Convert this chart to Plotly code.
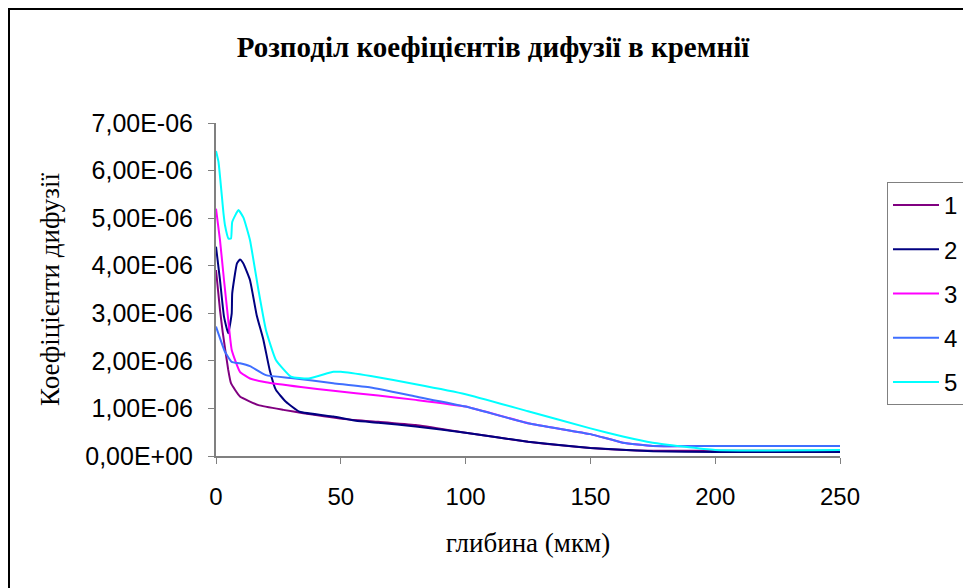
import plotly.graph_objects as go

# ---- data ----
series_names = ["1", "2", "3", "4", "5"]

x1 = [0, 1.6, 2.7, 4.9, 6, 9.6, 17, 27, 35, 53, 65, 80, 100, 125, 150, 175, 200, 250]
y1 = [3.91e-6, 3.07e-6, 2.60e-6, 1.81e-6, 1.53e-6, 1.25e-6, 1.07e-6, 0.97e-6, 0.90e-6,
      0.77e-6, 0.72e-6, 0.65e-6, 0.49e-6, 0.30e-6, 0.17e-6, 0.11e-6, 0.11e-6, 0.11e-6]

x2 = [0, 1.6, 3.2, 4.9, 6.3, 6.5, 8.4, 9.6, 10.9, 13.6, 16.3, 19, 21.5, 24, 28, 33.5,
      47, 56, 65, 80, 100, 125, 150, 175, 200, 250]
y2 = [4.40e-6, 3.70e-6, 2.93e-6, 2.58e-6, 3.00e-6, 3.42e-6, 4.05e-6, 4.13e-6, 4.05e-6,
      3.70e-6, 2.96e-6, 2.44e-6, 1.81e-6, 1.39e-6, 1.14e-6, 0.93e-6, 0.83e-6, 0.74e-6,
      0.70e-6, 0.62e-6, 0.49e-6, 0.30e-6, 0.17e-6, 0.10e-6, 0.085e-6, 0.085e-6]

x3 = [0, 1.6, 3.2, 4.9, 6.3, 9.6, 13.6, 20, 34, 47, 65, 80, 100, 125, 150, 163, 175, 200, 250]
y3 = [5.20e-6, 4.54e-6, 3.70e-6, 2.86e-6, 2.23e-6, 1.77e-6, 1.63e-6, 1.55e-6, 1.45e-6,
      1.37e-6, 1.27e-6, 1.18e-6, 1.04e-6, 0.69e-6, 0.46e-6, 0.28e-6, 0.21e-6, 0.21e-6, 0.21e-6]

x4 = [0, 3.6, 6.3, 9.6, 13.6, 20, 30, 47, 62, 80, 100, 125, 150, 163, 175, 200, 250]
y4 = [2.72e-6, 2.19e-6, 1.98e-6, 1.95e-6, 1.89e-6, 1.70e-6, 1.64e-6, 1.53e-6, 1.44e-6,
      1.25e-6, 1.04e-6, 0.69e-6, 0.46e-6, 0.28e-6, 0.21e-6, 0.21e-6, 0.21e-6]

x5 = [0, 1, 3, 3.6, 5, 6, 6.5, 9, 11, 13.6, 17, 20, 24, 30, 37, 47, 50, 62, 80, 100,
      125, 150, 163, 175, 200, 250]
y5 = [6.41e-6, 6.18e-6, 5.10e-6, 4.85e-6, 4.57e-6, 4.57e-6, 4.92e-6, 5.17e-6, 5.01e-6,
      4.54e-6, 3.49e-6, 2.65e-6, 2.02e-6, 1.67e-6, 1.63e-6, 1.77e-6, 1.77e-6, 1.68e-6,
      1.51e-6, 1.30e-6, 0.94e-6, 0.58e-6, 0.41e-6, 0.28e-6, 0.126e-6, 0.126e-6]

y_tick_vals = [0, 1e-6, 2e-6, 3e-6, 4e-6, 5e-6, 6e-6, 7e-6]
y_tick_text = ["0,00E+00", "1,00E-06", "2,00E-06", "3,00E-06",
               "4,00E-06", "5,00E-06", "6,00E-06", "7,00E-06"]
x_tick_vals = [0, 50, 100, 150, 200, 250]

title_text = "Розподіл коефіцієнтів дифузії в кремнії"
x_title = "глибина (мкм)"
y_title = "Коефіцієнти дифузії"

colors = ["#800080", "#000080", "#FF00FF", "#3F6FFF", "#00FFFF"]

xs = [x1, x2, x3, x4, x5]
ys = [y1, y2, y3, y4, y5]

SERIF = "Times New Roman, Liberation Serif, DejaVu Serif, serif"
SANS = "Arial, Liberation Sans, sans-serif"

fig = go.Figure()
for i in range(5):
    fig.add_trace(go.Scatter(
        x=xs[i], y=ys[i], mode="lines",
        name=series_names[i],
        legendgroup=series_names[i],
        line=dict(color=colors[i], width=2, shape="spline", smoothing=0.4),
    ))

# page body has an 8px margin, so target pixel positions are shifted by OFF
OFF = 8
W, H = 971, 588
L, R, T, B = 216 - OFF, 840 - OFF, 123 - OFF, 456 - OFF
PW, PH = R - L, B - T

fig.update_layout(
    width=W, height=H,
    margin=dict(l=L, r=W - R, t=T, b=H - B, autoexpand=False),
    paper_bgcolor="white", plot_bgcolor="white",
    showlegend=True,
    legend=dict(
        x=(887 - OFF - L) / PW, xanchor="left",
        y=(B - (182 - OFF)) / PH, yanchor="top",
        bordercolor="#808080", borderwidth=1, bgcolor="white",
        font=dict(family=SANS, size=24, color="black"),
        tracegroupgap=10,
        itemwidth=46,
    ),
    xaxis=dict(
        range=[0, 250], tickvals=x_tick_vals, ticks="outside", ticklen=6,
        tickcolor="#808080", linecolor="#808080", linewidth=2, showline=True,
        showgrid=False, zeroline=False,
        tickfont=dict(family=SANS, size=24, color="black"),
        ticklabelstandoff=12,
        title=dict(text=x_title, font=dict(family=SERIF, size=27, color="black"),
                   standoff=24),
    ),
    yaxis=dict(
        range=[0, 7e-6], tickvals=y_tick_vals, ticktext=y_tick_text, ticks="outside",
        ticklen=6, tickcolor="#808080", linecolor="#808080", linewidth=2, showline=True,
        showgrid=False, zeroline=False,
        tickfont=dict(family=SANS, size=25, color="black"),
        ticklabelstandoff=10,
        title=dict(text=y_title, font=dict(family=SERIF, size=27, color="black"),
                   standoff=18),
    ),
    title=dict(text="<b>" + title_text + "</b>", x=(493 - OFF) / W, xanchor="center",
               y=1 - (47 - OFF) / H, yanchor="middle",
               font=dict(family=SERIF, size=29, color="black")),
)

# outer chart-area border (right/bottom edges lie outside the visible window)
fig.add_shape(type="rect", xref="paper", yref="paper",
              x0=(1 - L) / PW, x1=(1000 - L) / PW,
              y0=(B - 620) / PH, y1=(B - 1) / PH,
              line=dict(color="black", width=2), fillcolor="rgba(0,0,0,0)", layer="below")

fig.write_html("out.html")
